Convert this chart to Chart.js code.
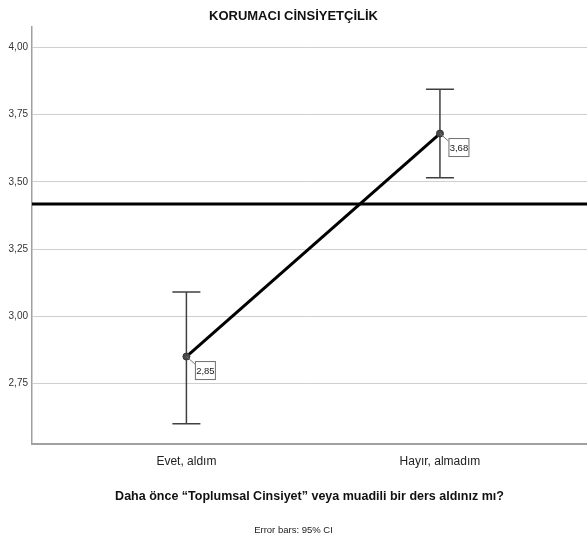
<!DOCTYPE html>
<html>
<head>
<meta charset="utf-8">
<script src="https://cdn.jsdelivr.net/npm/chart.js@4.4.1/dist/chart.umd.min.js"></script>
<style>
  html, body { margin: 0; padding: 0; background: #ffffff; }
  #wrap { width: 587px; height: 540px; }
</style>
</head>
<body>
<div id="wrap"><canvas id="chart" width="587" height="540"></canvas></div>
<script>
// Group means and 95% confidence intervals
const categories = ['Evet, aldım', 'Hayır, almadım'];
const means = [2.85, 3.68];
const ciLower = [2.60, 3.515];
const ciUpper = [3.09, 3.845];
const referenceValue = 3.418;
const yTicks = [2.75, 3.00, 3.25, 3.50, 3.75, 4.00];

const FONT = "'Liberation Sans Narrow', 'Arial Narrow', 'Liberation Sans', Arial, sans-serif";
const X_MIN = -0.609, X_MAX = 1.580;
const Y_MIN = 2.526, Y_MAX = 4.078;

const fmt = v => v.toFixed(2).replace('.', ',');

// Error bars with caps, drawn beneath the mean line
const errorBars = {
  id: 'errorBars',
  beforeDatasetsDraw(chart) {
    const { ctx, scales: { x, y } } = chart;
    ctx.save();
    ctx.strokeStyle = '#404040';
    ctx.lineWidth = 1.5;
    const cap = 14;
    categories.forEach((c, i) => {
      const px = x.getPixelForValue(i);
      const top = y.getPixelForValue(ciUpper[i]);
      const bot = y.getPixelForValue(ciLower[i]);
      ctx.beginPath();
      ctx.moveTo(px, top); ctx.lineTo(px, bot);
      ctx.moveTo(px - cap, top); ctx.lineTo(px + cap, top);
      ctx.moveTo(px - cap, bot); ctx.lineTo(px + cap, bot);
      ctx.stroke();
    });
    ctx.restore();
  }
};

// Boxed value labels attached to each mean point
const valueLabels = {
  id: 'valueLabels',
  afterDatasetsDraw(chart) {
    const { ctx, scales: { x, y } } = chart;
    ctx.save();
    ctx.font = '9.5px ' + FONT;
    ctx.textAlign = 'center';
    ctx.textBaseline = 'middle';
    means.forEach((m, i) => {
      const px = x.getPixelForValue(i);
      const py = y.getPixelForValue(m);
      const bx = px + 8.5, by = py + 4.5, bw = 20, bh = 18;
      ctx.strokeStyle = '#707070';
      ctx.lineWidth = 1;
      ctx.beginPath();
      ctx.moveTo(px, py); ctx.lineTo(bx, by + 3);
      ctx.stroke();
      ctx.fillStyle = '#ffffff';
      ctx.fillRect(bx, by, bw, bh);
      ctx.strokeRect(bx + 0.5, by + 0.5, bw, bh);
      ctx.fillStyle = '#222222';
      ctx.fillText(fmt(m), bx + bw / 2 + 0.5, by + bh / 2 + 1);
    });
    ctx.restore();
  }
};

new Chart(document.getElementById('chart'), {
  type: 'line',
  data: {
    datasets: [
      {
        label: 'Ortalama',
        data: means.map((m, i) => ({ x: i, y: m })),
        borderColor: '#000000',
        borderWidth: 3,
        pointRadius: 3.5,
        pointBackgroundColor: '#4a4a4a',
        pointBorderColor: '#333333',
        pointBorderWidth: 1,
        order: 1
      },
      {
        label: 'Genel ortalama',
        data: [{ x: X_MIN, y: referenceValue }, { x: X_MAX, y: referenceValue }],
        borderColor: '#000000',
        borderWidth: 3,
        pointRadius: 0,
        order: 2
      }
    ]
  },
  options: {
    responsive: false,
    animation: false,
    layout: { autoPadding: false, padding: { left: 0, right: 0, top: 0, bottom: 0 } },
    plugins: {
      legend: { display: false },
      tooltip: { enabled: false },
      title: {
        display: true,
        text: 'KORUMACI CİNSİYETÇİLİK',
        color: '#111111',
        font: { family: FONT, size: 13, weight: 'bold' },
        padding: { top: 9, bottom: 2 }
      },
      subtitle: {
        display: true,
        position: 'bottom',
        text: 'Error bars: 95% CI',
        color: '#222222',
        font: { family: FONT, size: 9.5, weight: 'normal' },
        padding: { top: 0, bottom: 4 }
      }
    },
    scales: {
      x: {
        type: 'linear',
        min: X_MIN,
        max: X_MAX,
        afterBuildTicks: s => { s.ticks = categories.map((c, i) => ({ value: i })); },
        afterFit: s => { s.height = 81; s.paddingLeft = 0; s.paddingRight = 0; },
        ticks: {
          padding: 11,
          color: '#222222',
          font: { family: FONT, size: 12 },
          callback: v => categories[v]
        },
        grid: { display: false, drawTicks: false },
        border: { display: true, color: '#a0a0a0', width: 2 },
        title: {
          display: true,
          text: 'Daha önce “Toplumsal Cinsiyet” veya muadili bir ders aldınız mı?',
          color: '#111111',
          font: { family: FONT, size: 12.5, weight: 'bold' },
          padding: { top: 0, bottom: 21 }
        }
      },
      y: {
        type: 'linear',
        min: Y_MIN,
        max: Y_MAX,
        afterBuildTicks: s => { s.ticks = yTicks.map(v => ({ value: v })); },
        afterFit: s => { s.width = 32; },
        ticks: {
          padding: 4,
          color: '#333333',
          font: { family: FONT, size: 10 },
          callback: v => fmt(v)
        },
        grid: { color: '#cfcfcf', lineWidth: 1, drawTicks: false },
        border: { display: true, color: '#a0a0a0', width: 1.5 }
      }
    }
  },
  plugins: [errorBars, valueLabels]
});
</script>
</body>
</html>
